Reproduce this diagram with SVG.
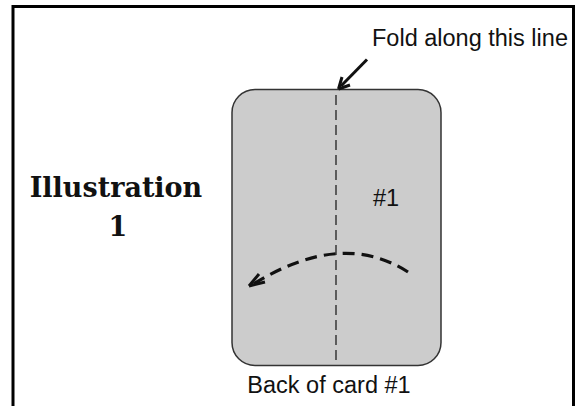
<svg xmlns="http://www.w3.org/2000/svg" width="579" height="406" viewBox="0 0 579 406">
<style>
.sans{font-family:"Liberation Sans",Arial,sans-serif;fill:#111}
.serif{font-family:"DejaVu Serif","Liberation Serif",serif;font-weight:bold;fill:#111}
</style>
<rect width="579" height="406" fill="#fff"/>
<g id="frame">
<path d="M13,406 V6.5 H573.5 V406" fill="none" stroke="#000" stroke-width="3"/>
</g>
<g id="card">
<rect x="232" y="89.5" width="209" height="276" rx="23" ry="23" fill="#cccccc" stroke="#333" stroke-width="1.5"/>
<text class="sans" x="386" y="206" font-size="23.5" text-anchor="middle">#1</text>
</g>
<g id="title">
<text class="serif" x="116" y="197" font-size="27" text-anchor="middle">Illustration</text>
<text class="serif" x="118" y="236" font-size="27" text-anchor="middle">1</text>
</g>
<g id="labels">
<text class="sans" x="372" y="46" font-size="23.5">Fold along this line</text>
<text class="sans" x="329" y="393" font-size="23.5" text-anchor="middle">Back of card #1</text>
</g>
<g id="connectors" fill="none" stroke="#111" stroke-linecap="butt">
<line x1="336" y1="95" x2="336" y2="365" stroke-width="1.2" stroke-dasharray="10,5"/>
<line x1="367" y1="59.5" x2="341" y2="86" stroke-width="3"/>
<path d="M338.5,89 L342,77 M338.5,89 L350,85" stroke-width="3"/>
<path d="M408,272 Q341,229 252,285" stroke-width="3.2" stroke-dasharray="12,7"/>
<path d="M249,286 L259,274 M249,286 L265,282" stroke-width="3"/>
</g>
</svg>
